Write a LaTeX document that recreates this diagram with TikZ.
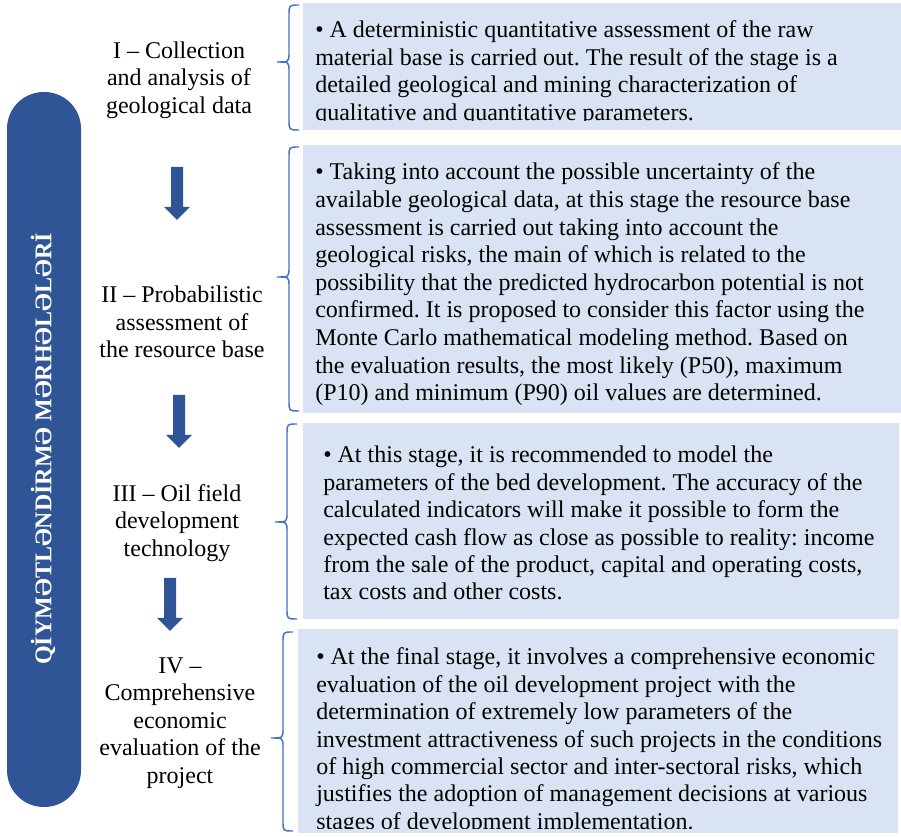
\documentclass[tikz,border=0pt]{standalone}
\usepackage{fontspec}
\setmainfont{Liberation Serif}
\frenchspacing
\begin{document}
\definecolor{barblue}{HTML}{2F5597}
\definecolor{bracecol}{HTML}{4472C4}
\definecolor{boxfill}{HTML}{DAE3F3}
\newcommand{\stagebrace}[4]{% #1 spine x, #2 top y, #3 tip y, #4 bottom y
  \draw[bracecol, line width=1.1pt]
    (#1+10,#2) .. controls (#1,#2) .. (#1,#2+10) -- (#1,#3-9)
    .. controls (#1,#3) .. (#1-12,#3)
    .. controls (#1,#3) .. (#1,#3+9) -- (#1,#4-10)
    .. controls (#1,#4) .. (#1+10,#4);}
\newcommand{\blockarrow}[4]{% #1 centre x, #2 top y, #3 head start y, #4 tip y
  \fill[barblue] (#1-6,#2) -- (#1+6,#2) -- (#1+6,#3) -- (#1+13,#3)
    -- (#1,#4) -- (#1-13,#3) -- (#1-6,#3) -- cycle;}
\begin{tikzpicture}[x=0.75pt, y=-0.75pt,
  stagelabel/.style={align=center, inner sep=0pt,
    font=\fontsize{18}{20.6}\selectfont},
  boxline/.style={anchor=base west, inner sep=0pt,
    font=\fontsize{18}{20.6}\selectfont},
  stagebox/.style={fill=boxfill, draw=none}]
\useasboundingbox (0,0) rectangle (901,837);

% vertical title bar
\fill[barblue, rounded corners=27.5pt] (7,92) rectangle (81,807);
\node[rotate=90, text=white, inner sep=0pt,
  font=\fontsize{18}{20}\selectfont\bfseries] (title) at (43,449)
  {QİYMƏTLƏNDİRMƏ MƏRHƏLƏLƏRİ};

% stage boxes
\fill[stagebox] (303,3) rectangle (901,130);
\fill[stagebox] (303,145) rectangle (901,413);
\fill[stagebox] (303,423) rectangle (899,619);
\fill[stagebox] (298,629) rectangle (898,833);

% braces
\stagebrace{289}{5}{62}{130}
\stagebrace{289}{147}{277}{411}
\stagebrace{287}{424}{522}{619}
\stagebrace{283}{632}{738}{831}

% stage names
\node[stagelabel] (s1) at (179,80) {I -- Collection\\and analysis of\\geological data};
\node[stagelabel] (s2) at (182,322) {II -- Probabilistic\\assessment of\\the resource base};
\node[stagelabel] (s3) at (177,523) {III -- Oil field\\development\\technology};
\node[stagelabel] (s4) at (180,723) {IV --\\Comprehensive\\economic\\evaluation of the\\project};

% arrows between stages
\blockarrow{177}{167}{207}{220}
\blockarrow{179}{395}{435}{448}
\blockarrow{170}{578}{618}{631}

% box texts
\begin{scope}
\clip (303,3) rectangle (901,121);
\foreach \t [count=\i] in {
  {• A deterministic quantitative assessment of the raw},
  {material base is carried out. The result of the stage is a},
  {detailed geological and mining characterization of},
  {qualitative and quantitative parameters.}}
  \node[boxline] (ta\i) at (315,{38+27.4*(\i-1)}) {\t};
\end{scope}

\foreach \t [count=\i] in {
  {• Taking into account the possible uncertainty of the},
  {available geological data, at this stage the resource base},
  {assessment is carried out taking into account the},
  {geological risks, the main of which is related to the},
  {possibility that the predicted hydrocarbon potential is not},
  {confirmed. It is proposed to consider this factor using the},
  {Monte Carlo mathematical modeling method. Based on},
  {the evaluation results, the most likely (P50), maximum},
  {(P10) and minimum (P90) oil values are determined.}}
  \node[boxline] (tb\i) at (315,{180+27.6*(\i-1)}) {\t};

\foreach \t [count=\i] in {
  {• At this stage, it is recommended to model the},
  {parameters of the bed development. The accuracy of the},
  {calculated indicators will make it possible to form the},
  {expected cash flow as close as possible to reality: income},
  {from the sale of the product, capital and operating costs,},
  {tax costs and other costs.}}
  \node[boxline] (tc\i) at (323,{463+27.4*(\i-1)}) {\t};

\begin{scope}
\clip (298,629) rectangle (898,829);
\foreach \t [count=\i] in {
  {• At the final stage, it involves a comprehensive economic},
  {evaluation of the oil development project with the},
  {determination of extremely low parameters of the},
  {investment attractiveness of such projects in the conditions},
  {of high commercial sector and inter-sectoral risks, which},
  {justifies the adoption of management decisions at various},
  {stages of development implementation.}}
  \node[boxline] (td\i) at (316,{665+27.4*(\i-1)}) {\t};
\end{scope}
\end{tikzpicture}
\end{document}
